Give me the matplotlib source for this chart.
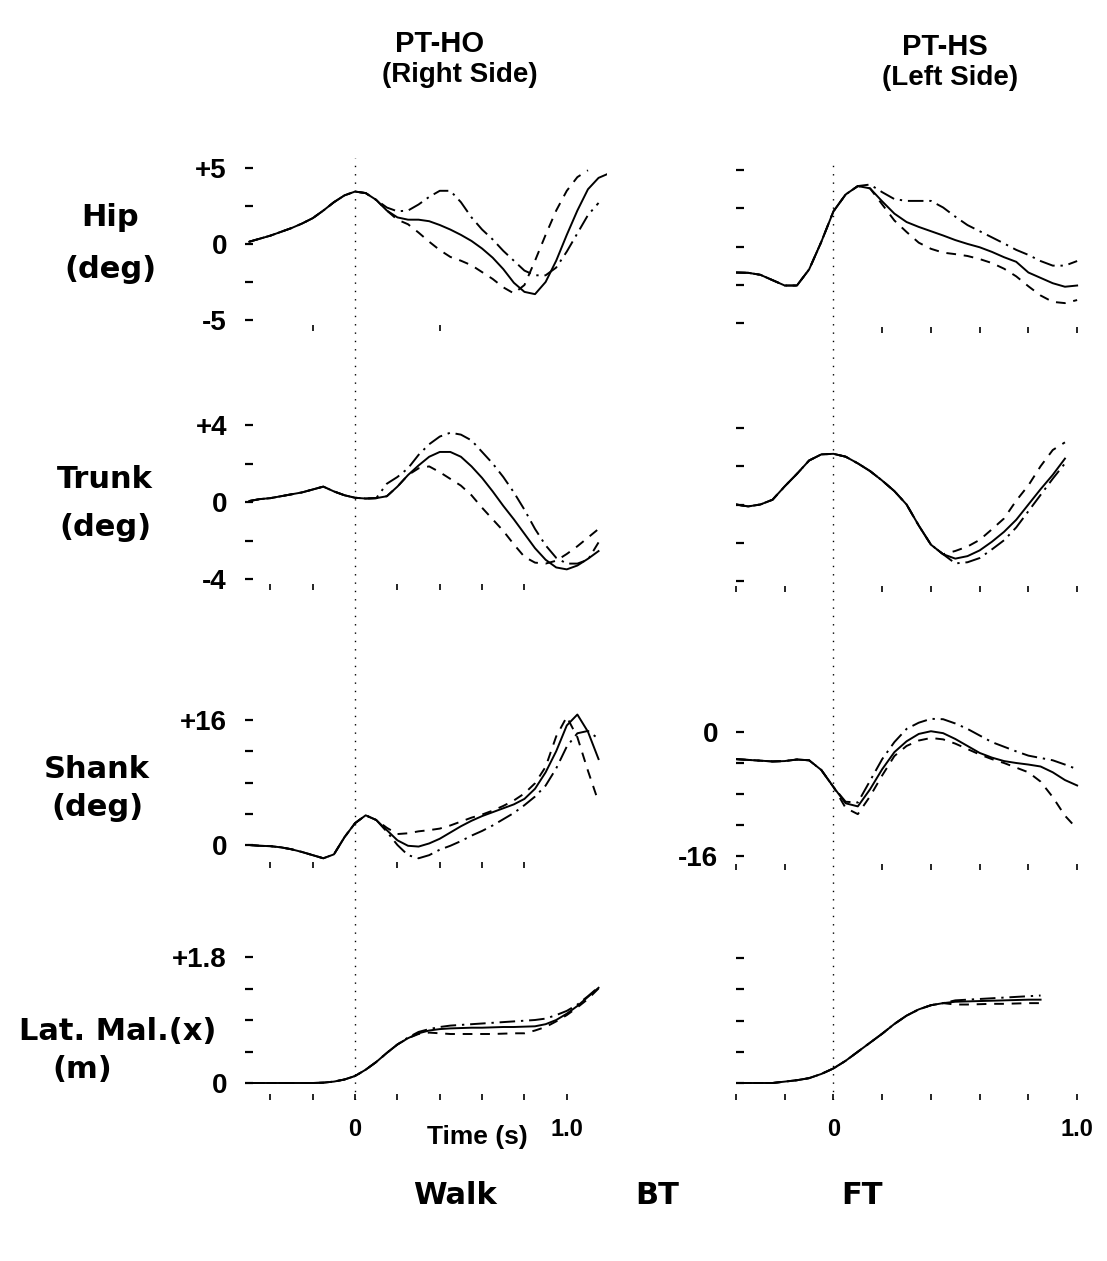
import numpy as np
import matplotlib
matplotlib.use("Agg")
import matplotlib.pyplot as plt

plt.rcParams["font.family"] = ["DejaVu Sans"]
plt.rcParams["font.weight"] = "bold"

nan = np.nan
FIG_W, FIG_H = 1107, 1261

# sample times (s), t = 0 is the event (heel-off / heel-strike)
t_ho = np.round(np.arange(-0.50, 1.201, 0.05), 2)   # 35 samples
t_hs = np.round(np.arange(-0.40, 1.001, 0.05), 2)   # 29 samples

# ---- PT-HO, right side (three trials: walk = a, BT = b, FT = c) ----
hip_ho_start = [0.15, 0.35, 0.55, 0.8, 1.05, 1.35, 1.7, 2.2, 2.75, 3.2, 3.45, 3.35, 2.9]
hip_ho_a = hip_ho_start + [2.2, 1.75, 1.6, 1.6, 1.5, 1.25, 0.95, 0.6, 0.2, -0.3, -0.9,
                           -1.65, -2.55, -3.15, -3.3, -2.5, -1.1, 0.6, 2.2, 3.6, 4.35, 4.65]
hip_ho_b = hip_ho_start + [2.2, 1.6, 1.3, 0.75, 0.15, -0.4, -0.85, -1.1, -1.4, -1.85, -2.3,
                           -2.85, -3.25, -2.7, -1.1, 0.6, 2.2, 3.5, 4.4, 4.85, nan, nan]
hip_ho_c = hip_ho_start + [2.4, 2.15, 2.2, 2.6, 3.1, 3.5, 3.5, 2.75, 1.75, 0.95, 0.3,
                           -0.45, -1.1, -1.75, -2.06, -2.06, -1.55, -0.5, 0.7, 1.9, 2.7, nan]

trunk_ho_start = [0.05, 0.15, 0.2, 0.3, 0.4, 0.5, 0.65, 0.8, 0.55, 0.35, 0.22, 0.18, 0.2]
trunk_ho_a = trunk_ho_start + [0.3, 0.8, 1.4, 1.9, 2.35, 2.6, 2.6, 2.35, 1.85, 1.25, 0.55,
                               -0.2, -0.9, -1.65, -2.4, -3.0, -3.4, -3.5, -3.3, -2.95, -2.55, nan]
trunk_ho_b = trunk_ho_start + [0.3, 0.8, 1.4, 1.75, 1.85, 1.55, 1.2, 0.85, 0.35, -0.3, -0.9,
                               -1.5, -2.2, -2.85, -3.15, -3.2, -3.05, -2.7, -2.3, -1.85, -1.4, nan]
trunk_ho_c = trunk_ho_start + [0.95, 1.3, 1.75, 2.45, 3.0, 3.4, 3.6, 3.5, 3.2, 2.6, 2.0,
                               1.3, 0.5, -0.4, -1.4, -2.25, -2.9, -3.2, -3.2, -3.0, -2.1, nan]

shank_ho_start = [0.0, -0.1, -0.15, -0.3, -0.55, -0.9, -1.3, -1.7, -1.2, 1.0, 2.8, 3.8, 3.2]
shank_ho_a = shank_ho_start + [1.9, 0.6, -0.1, -0.2, 0.2, 0.8, 1.6, 2.4, 3.1, 3.7, 4.2,
                               4.7, 5.2, 5.9, 7.2, 9.3, 12.0, 15.3, 16.7, 14.5, 11.0, nan]
shank_ho_b = shank_ho_start + [2.2, 1.4, 1.5, 1.75, 1.9, 2.1, 2.5, 3.0, 3.5, 3.9, 4.4,
                               5.0, 5.7, 6.6, 7.9, 10.0, 13.9, 16.4, 13.8, 9.5, 5.5, nan]
shank_ho_c = shank_ho_start + [1.7, 0.0, -1.3, -1.7, -1.3, -0.6, -0.1, 0.5, 1.2, 1.8, 2.5,
                               3.3, 4.1, 5.1, 6.2, 7.6, 9.8, 12.6, 14.3, 14.6, 13.6, nan]

latmal_ho_start = [0.0, 0.0, 0.0, 0.0, 0.0, 0.0, 0.0, 0.005, 0.02, 0.05, 0.1, 0.19, 0.3]
latmal_ho_a = latmal_ho_start + [0.43, 0.55, 0.64, 0.71, 0.75, 0.77, 0.78, 0.785, 0.79, 0.79, 0.795,
                                 0.8, 0.8, 0.805, 0.81, 0.84, 0.9, 0.99, 1.1, 1.23, 1.36, nan]
latmal_ho_b = latmal_ho_start + [0.43, 0.55, 0.64, 0.7, 0.72, 0.71, 0.7, 0.7, 0.7, 0.7, 0.7,
                                 0.705, 0.71, 0.71, 0.75, 0.8, 0.88, 0.97, 1.08, 1.2, 1.35, nan]
latmal_ho_c = latmal_ho_start + [0.43, 0.55, 0.65, 0.73, 0.77, 0.8, 0.82, 0.83, 0.84, 0.85, 0.86,
                                 0.87, 0.88, 0.89, 0.9, 0.92, 0.97, 1.03, 1.12, 1.24, 1.37, nan]

# ---- PT-HS, left side ----
hip_hs_start = [-1.7, -1.72, -1.85, -2.2, -2.55, -2.55, -1.5, 0.3, 2.3, 3.4, 3.95]
hip_hs_a = hip_hs_start + [3.8, 2.95, 2.15, 1.6, 1.28, 1.0, 0.72, 0.42, 0.17, -0.05,
                           -0.35, -0.7, -1.0, -1.7, -2.05, -2.4, -2.63, -2.55]
hip_hs_b = hip_hs_start + [3.8, 2.75, 1.7, 0.95, 0.25, -0.15, -0.4, -0.5, -0.62, -0.82,
                           -1.08, -1.45, -1.95, -2.6, -3.2, -3.62, -3.7, -3.5]
hip_hs_c = hip_hs_start + [4.05, 3.55, 3.1, 2.98, 2.98, 2.98, 2.55, 1.95, 1.4, 1.0,
                           0.6, 0.2, -0.22, -0.55, -0.95, -1.25, -1.25, -0.95]

trunk_hs_start = [0.0, -0.1, 0.0, 0.25, 0.95, 1.6, 2.3, 2.62, 2.65, 2.5, 2.15, 1.75,
                  1.25, 0.7, 0.0, -1.1, -2.1, -2.6]
trunk_hs_a = trunk_hs_start + [-2.83, -2.7, -2.4, -1.95, -1.43, -0.8, 0.0, 0.8, 1.55, 2.4, nan]
trunk_hs_b = trunk_hs_start + [-2.43, -2.2, -1.85, -1.3, -0.73, 0.2, 1.0, 2.0, 2.85, 3.25, nan]
trunk_hs_c = trunk_hs_start + [-3.08, -3.02, -2.8, -2.35, -1.87, -1.2, -0.35, 0.5, 1.35, 2.15, nan]

shank_hs_start = [-3.5, -3.6, -3.7, -3.8, -3.75, -3.55, -3.65, -4.9, -7.1]
shank_hs_a = shank_hs_start + [-9.2, -9.6, -7.4, -4.8, -2.6, -1.2, -0.25, 0.1, -0.15, -0.9,
                               -1.8, -2.7, -3.3, -3.75, -4.0, -4.2, -4.45, -5.2, -6.2, -6.9]
shank_hs_b = shank_hs_start + [-9.8, -10.6, -8.3, -5.6, -3.1, -1.8, -1.1, -0.77, -0.95, -1.5,
                               -2.2, -2.9, -3.5, -4.0, -4.6, -5.2, -6.4, -8.4, -10.8, -12.5]
shank_hs_c = shank_hs_start + [-9.0, -9.1, -6.3, -3.5, -1.3, 0.4, 1.2, 1.7, 1.65, 1.1,
                               0.4, -0.45, -1.3, -1.9, -2.5, -3.05, -3.35, -3.65, -4.2, -4.8]

latmal_hs_start = [0.0, 0.0, 0.0, 0.0, 0.02, 0.04, 0.07, 0.13, 0.21, 0.32, 0.45, 0.58,
                   0.71, 0.85, 0.97, 1.06, 1.12, 1.15]
latmal_hs_a = latmal_hs_start + [1.17, 1.175, 1.18, 1.185, 1.19, 1.195, 1.2, 1.2, nan, nan, nan]
latmal_hs_b = latmal_hs_start + [1.13, 1.13, 1.135, 1.14, 1.14, 1.145, 1.15, 1.15, nan, nan, nan]
latmal_hs_c = latmal_hs_start + [1.19, 1.2, 1.21, 1.22, 1.23, 1.24, 1.25, 1.26, nan, nan, nan]

row_labels = [("Hip", "(deg)"), ("Trunk", "(deg)"), ("Shank", "(deg)"), ("Lat. Mal.(x)", "(m)")]
trial_names = ["Walk", "BT", "FT"]

trial_styles = [dict(ls="-"), dict(ls=(0, (5, 4))), dict(ls=(0, (8, 3, 1.2, 3)))]

# layout in pixels: column x extents and time limits
cols = {
    "ho": dict(xlim=(-0.52, 1.19), x0=245, x1=607, t=t_ho),
    "hs": dict(xlim=(-0.40, 1.02), x0=736, x1=1082, t=t_hs),
}

# one entry per panel: frame top/bottom (px), two reference levels (value, px)
panels = [
    dict(col="ho", top=158, bot=331, ref=(5, 168, -5, 320),
         yt=[5, 2.5, 0, -2.5, -5], ylab=["+5", "", "0", "", "-5"],
         xt=[-0.2, 0.4], data=(hip_ho_a, hip_ho_b, hip_ho_c)),
    dict(col="hs", top=160, bot=333, ref=(5, 170, -5, 323),
         yt=[5, 2.5, 0, -2.5, -5], ylab=None,
         xt=[0.2, 0.4, 0.6, 0.8, 1.0], data=(hip_hs_a, hip_hs_b, hip_hs_c)),
    dict(col="ho", top=415, bot=590, ref=(4, 425, -4, 579),
         yt=[4, 2, 0, -2, -4], ylab=["+4", "", "0", "", "-4"],
         xt=[-0.4, -0.2, 0.2, 0.4, 0.6, 0.8], data=(trunk_ho_a, trunk_ho_b, trunk_ho_c)),
    dict(col="hs", top=418, bot=592, ref=(4, 428, -4, 581),
         yt=[4, 2, 0, -2, -4], ylab=None,
         xt=[-0.4, -0.2, 0.2, 0.4, 0.6, 0.8, 1.0], data=(trunk_hs_a, trunk_hs_b, trunk_hs_c)),
    dict(col="ho", top=700, bot=868, ref=(16, 720, 0, 845),
         yt=[16, 12, 8, 4, 0], ylab=["+16", "", "", "", "0"],
         xt=[-0.4, -0.2, 0.2, 0.4, 0.6, 0.8], data=(shank_ho_a, shank_ho_b, shank_ho_c)),
    dict(col="hs", top=700, bot=870, ref=(0, 732, -16, 856),
         yt=[0, -4, -8, -12, -16], ylab=["0", "", "", "", "-16"],
         xt=[-0.4, -0.2, 0.2, 0.4, 0.6, 0.8, 1.0], data=(shank_hs_a, shank_hs_b, shank_hs_c)),
    dict(col="ho", top=945, bot=1100, ref=(1.8, 957, 0, 1083),
         yt=[1.8, 1.35, 0.9, 0.45, 0], ylab=["+1.8", "", "", "", "0"],
         xt=[-0.4, -0.2, 0, 0.2, 0.4, 0.6, 0.8, 1.0], data=(latmal_ho_a, latmal_ho_b, latmal_ho_c)),
    dict(col="hs", top=945, bot=1100, ref=(1.8, 958, 0, 1083),
         yt=[1.8, 1.35, 0.9, 0.45, 0], ylab=None,
         xt=[-0.4, -0.2, 0, 0.2, 0.4, 0.6, 0.8, 1.0], data=(latmal_hs_a, latmal_hs_b, latmal_hs_c)),
]

fig = plt.figure(figsize=(FIG_W / 100, FIG_H / 100), dpi=100)


def add_px_axes(x0, x1, top, bot):
    return fig.add_axes([x0 / FIG_W, 1 - bot / FIG_H, (x1 - x0) / FIG_W, (bot - top) / FIG_H])


def value_at(p, ref):
    v_hi, p_hi, v_lo, p_lo = ref
    return v_hi - (p - p_hi) * (v_hi - v_lo) / (p_lo - p_hi)


def fig_text(x, y, s, size, family="DejaVu Sans", **kw):
    fig.text(x / FIG_W, 1 - y / FIG_H, s, ha="center", va="center",
             fontsize=size, fontweight="bold", family=family, **kw)


for i, p in enumerate(panels):
    c = cols[p["col"]]
    ax = add_px_axes(c["x0"], c["x1"], p["top"], p["bot"])
    ax.set_xlim(*c["xlim"])
    ax.set_ylim(value_at(p["bot"], p["ref"]), value_at(p["top"], p["ref"]))
    for s in ax.spines.values():
        s.set_visible(False)
    ax.patch.set_alpha(0)

    for series, style in zip(p["data"], trial_styles):
        ax.plot(c["t"], series, color="black", lw=1.4,
                solid_joinstyle="round", dash_joinstyle="round", **style)

    ax.set_yticks(p["yt"])
    ax.set_yticklabels(p["ylab"] if p["ylab"] else [""] * len(p["yt"]),
                       family="Liberation Sans", fontsize=20, fontweight="bold")
    ax.tick_params(axis="y", direction="in", length=6, width=1.6, pad=13)

    last_row = i >= 6
    ax.set_xticks(p["xt"])
    if last_row:
        ax.set_xticklabels(["0" if x == 0 else "1.0" if x == 1.0 else "" for x in p["xt"]],
                           family="Liberation Sans", fontsize=17, fontweight="bold")
    else:
        ax.set_xticklabels([""] * len(p["xt"]))
    ax.tick_params(axis="x", direction="in", length=4, width=1.2, pad=13)

# dotted marker at t = 0 running down each column
for key, top in (("ho", 158), ("hs", 162)):
    c = cols[key]
    ov = add_px_axes(c["x0"], c["x1"], top, 1100)
    ov.set_xlim(*c["xlim"])
    ov.axis("off")
    ov.axvline(0, color="black", lw=1.0, ls=(0, (1, 5)))

# column headings
fig_text(440, 44, "PT-HO", 21, family="Liberation Sans")
fig_text(460, 75, "(Right Side)", 20, family="Liberation Sans")
fig_text(945, 47, "PT-HS", 21, family="Liberation Sans")
fig_text(950, 78, "(Left Side)", 20, family="Liberation Sans")

# row labels
label_pos = [(110, 218, 270), (105, 480, 527), (97, 770, 808), (118, 1032, 1070)]
for (name, unit), (x, y1, y2) in zip(row_labels, label_pos):
    fig_text(x, y1, name, 22)
    fig_text(x if unit != "(m)" else 82, y2, unit, 22)

fig_text(477, 1137, "Time (s)", 19, family="Liberation Sans")

for name, x in zip(trial_names, (455, 657, 862)):
    fig_text(x, 1195, name, 22)

fig.savefig("out.png", dpi=100)
